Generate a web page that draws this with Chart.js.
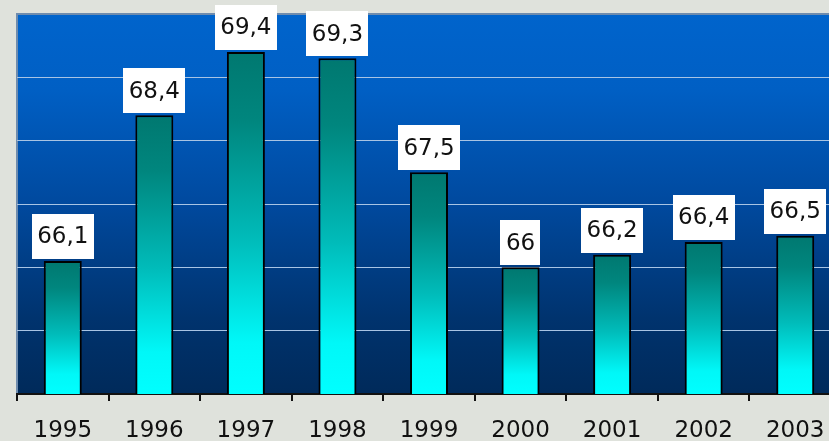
<!DOCTYPE html>
<html>
<head>
<meta charset="utf-8">
<script src="https://cdn.jsdelivr.net/npm/chart.js@4.4.1/dist/chart.umd.min.js"></script>
<style>
  html, body { margin: 0; padding: 0; overflow: hidden; background: #dfe2dc; }
  #wrap { position: absolute; left: 0; top: 0; width: 829px; height: 441px; overflow: hidden; }
  canvas { display: block; }
</style>
</head>
<body>
<div id="wrap"><canvas id="c" width="850" height="441"></canvas></div>
<script>
// Years and yearly values
const years = ['1995', '1996', '1997', '1998', '1999', '2000', '2001', '2002', '2003'];
const values = [66.1, 68.4, 69.4, 69.3, 67.5, 66, 66.2, 66.4, 66.5];

// Value axis range
const yMin = 64;
const yMax = 70;
const yStep = 1;

const FONT = '"DejaVu Sans", Verdana, sans-serif';

// Page and plot-area backgrounds
const backdrop = {
  id: 'backdrop',
  beforeDraw(chart) {
    const { ctx, chartArea: a, width, height } = chart;
    ctx.save();
    ctx.fillStyle = '#dfe2dc';
    ctx.fillRect(0, 0, width, height);
    const g = ctx.createLinearGradient(0, a.top, 0, a.bottom);
    g.addColorStop(0, '#0064cc');
    g.addColorStop(0.2, '#005fc4');
    g.addColorStop(0.5, '#00499e');
    g.addColorStop(0.8, '#00336e');
    g.addColorStop(1, '#002a5a');
    ctx.fillStyle = g;
    ctx.fillRect(a.left, a.top, a.right - a.left, a.bottom - a.top);
    // thin frame on top and left
    ctx.strokeStyle = '#6f8cae';
    ctx.lineWidth = 2;
    ctx.beginPath();
    ctx.moveTo(a.left, a.bottom);
    ctx.lineTo(a.left, a.top);
    ctx.lineTo(a.right, a.top);
    ctx.stroke();
    ctx.restore();
  }
};

// White boxes with the value above each bar
const valueBoxes = {
  id: 'valueBoxes',
  afterDatasetsDraw(chart) {
    const { ctx } = chart;
    const meta = chart.getDatasetMeta(0);
    const data = chart.data.datasets[0].data;
    ctx.save();
    ctx.font = '23px ' + FONT;
    ctx.textAlign = 'center';
    ctx.textBaseline = 'middle';
    meta.data.forEach((bar, i) => {
      const text = String(data[i]).replace('.', ',');
      const w = ctx.measureText(text).width + 11;
      const h = 45;
      const bottom = bar.y - 2;
      ctx.fillStyle = '#ffffff';
      ctx.fillRect(Math.round(bar.x - w / 2), Math.round(bottom - h), Math.round(w), h);
      ctx.fillStyle = '#111111';
      ctx.fillText(text, bar.x, bottom - h / 2 + 1);
    });
    ctx.restore();
  }
};

function barFill(context) {
  const chart = context.chart;
  const area = chart.chartArea;
  if (!area) return '#00a0a0';
  const yScale = chart.scales.y;
  const top = yScale.getPixelForValue(values[context.dataIndex]);
  const base = yScale.getPixelForValue(yMin);
  const g = chart.ctx.createLinearGradient(0, top, 0, base);
  g.addColorStop(0, '#007870');
  g.addColorStop(0.2, '#00867e');
  g.addColorStop(0.55, '#00bcba');
  g.addColorStop(0.85, '#00f8f8');
  g.addColorStop(1, '#00ffff');
  return g;
}

new Chart(document.getElementById('c'), {
  type: 'bar',
  data: {
    labels: years,
    datasets: [{
      data: values,
      backgroundColor: barFill,
      borderColor: '#000000',
      borderWidth: 2,
      borderSkipped: false,
      categoryPercentage: 1,
      barPercentage: 0.415
    }]
  },
  options: {
    responsive: false,
    animation: false,
    devicePixelRatio: 1,
    layout: { padding: { left: 17, top: 14, right: 9, bottom: 0 } },
    plugins: {
      legend: { display: false },
      tooltip: { enabled: false }
    },
    scales: {
      x: {
        offset: true,
        grid: {
          display: true,
          offset: true,
          drawOnChartArea: false,
          drawTicks: true,
          tickLength: 7,
          color: '#111111',
          lineWidth: 2
        },
        border: { display: true, color: '#111111', width: 2 },
        ticks: {
          color: '#111111',
          font: { family: FONT, size: 23 },
          padding: 16,
          maxRotation: 0,
          autoSkip: false
        },
        afterFit(scale) { scale.height = 47; }
      },
      y: {
        min: yMin,
        max: yMax,
        ticks: { display: false, stepSize: yStep },
        grid: {
          drawTicks: false,
          color: (c) => (c.tick && (c.tick.value === yMin || c.tick.value === yMax)) ? 'rgba(0,0,0,0)' : '#a8c4e4',
          lineWidth: 1
        },
        border: { display: false },
        afterFit(scale) { scale.width = 0; }
      }
    }
  },
  plugins: [backdrop, valueBoxes]
});
</script>
</body>
</html>
